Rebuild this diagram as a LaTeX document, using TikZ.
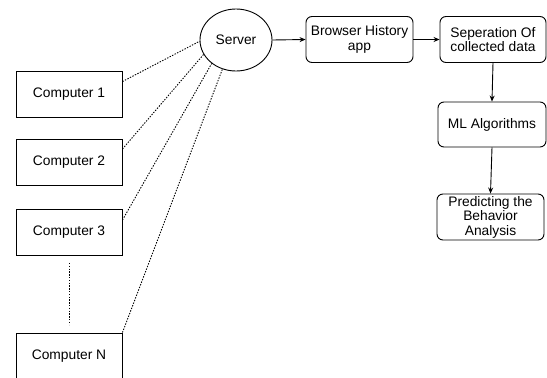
\documentclass[tikz,border=0pt]{standalone}
\usepackage{fontspec}
\setmainfont{Liberation Sans}
\usetikzlibrary{shapes.geometric,arrows.meta}
\begin{document}
\begin{tikzpicture}[x=1pt,y=-1pt,
  every node/.style={font=\fontsize{13.8}{14.5}\selectfont, align=center, inner sep=1pt},
  compbox/.style={draw, line width=0.9pt, minimum width=106pt, minimum height=46pt},
  procbox/.style={draw, line width=0.9pt, rounded corners=6pt, minimum width=107pt, minimum height=46pt},
  dotline/.style={line width=0.9pt, dash pattern=on 1.4pt off 1.4pt},
  arr/.style={line width=0.9pt, -{Stealth[length=6pt,width=5pt]}}]
\useasboundingbox (0,0) rectangle (547,378);
\clip (0,0) rectangle (547,378);
\node[draw, ellipse, line width=0.9pt, minimum width=72pt, minimum height=62pt, inner sep=0pt] (srv) at (236,40) {Server};
\node[compbox] (c1) at (69,94) {Computer 1};
\node[compbox] (c2) at (69,162.5) {Computer 2};
\node[compbox] (c3) at (69,232.5) {Computer 3};
\node[compbox] (cn) at (69,356) {Computer N};
\node[procbox] (bh) at (359.5,39.5) {Browser History\\app};
\node[procbox, minimum width=106pt] (sep) at (493,39.5) {Seperation Of\\collected data};
\node[procbox, minimum width=108pt, minimum height=45pt] (ml) at (492,124.5) {ML Algorithms};
\node[procbox] (pred) at (490.5,217) {Predicting the\\Behavior\\Analysis};
\coordinate (p1) at ([yshift=-11pt]c1.north east);
\coordinate (p2) at ([yshift=-10pt]c2.north east);
\coordinate (p3) at ([yshift=-11pt]c3.north east);
\coordinate (d1) at ([yshift=-7pt]c3.south);
\coordinate (d2) at ([yshift=8pt]cn.north);
\draw[dotline] (p1) -- (srv.182);
\draw[dotline] (p2) -- (srv.204);
\draw[dotline] (p3) -- (srv.224);
\draw[dotline] (cn.north east) -- (srv.245);
\draw[dotline] (d1) -- (d2);
\draw[arr] (srv.east) -- (bh.west);
\draw[arr] (bh.east) -- (sep.west);
\draw[arr] (sep.south) -- (ml.north);
\draw[arr] (ml.south) -- (pred.north);
\end{tikzpicture}
\end{document}
